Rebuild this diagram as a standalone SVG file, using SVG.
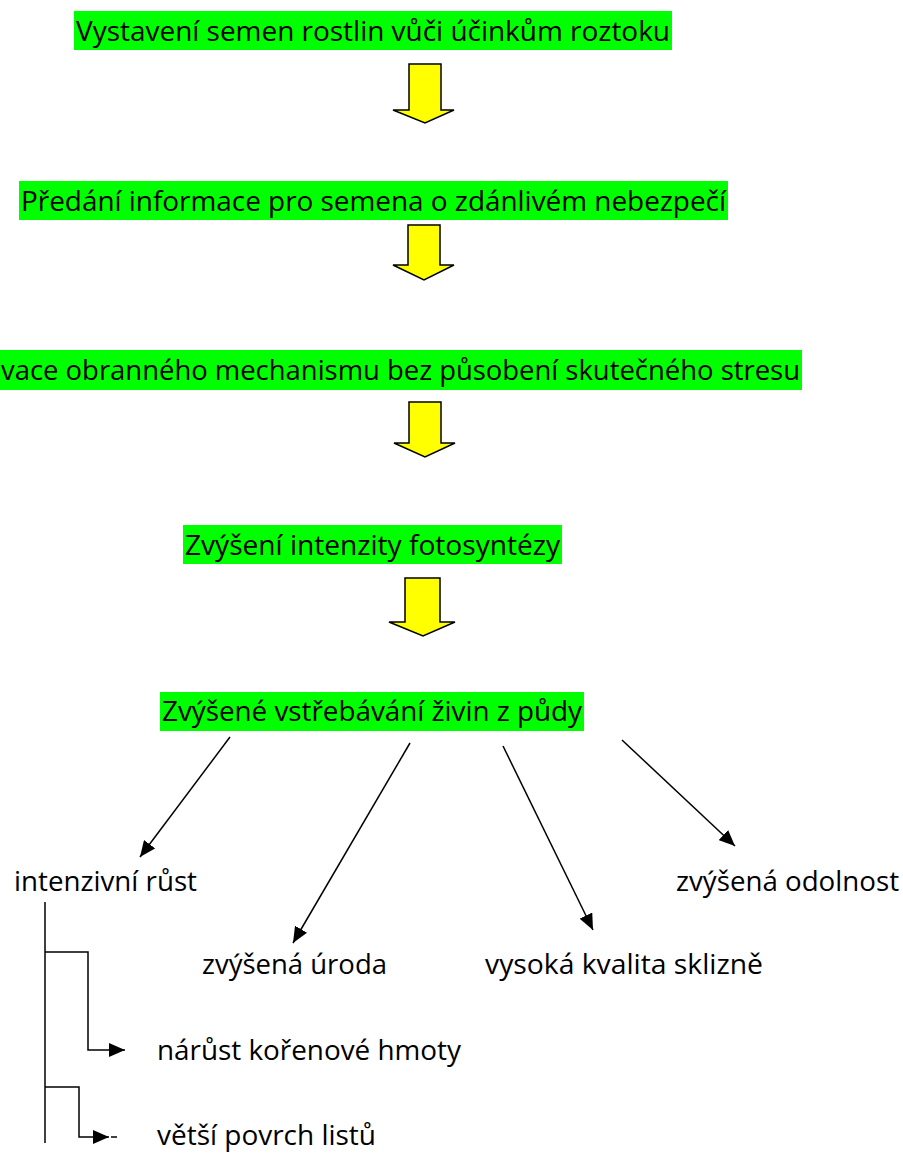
<svg xmlns="http://www.w3.org/2000/svg" width="903" height="1153" viewBox="0 0 903 1153">
<style>
.t{font-family:"Open Sans","Noto Sans","DejaVu Sans",sans-serif;font-size:28px;fill:#000}
.hl{fill:#00ff00}
.blk{fill:#ffff00;stroke:#000;stroke-width:1.5;stroke-linejoin:miter}
.ln{fill:none;stroke:#000;stroke-width:1.5}
</style>
<defs>
<marker id="ah" markerUnits="userSpaceOnUse" markerWidth="17" markerHeight="14" refX="16" refY="7" orient="auto">
<path d="M0,0 L16,7 L0,14 z" fill="#000"/>
</marker>
</defs>
<rect width="903" height="1153" fill="#fff"/>
<g id="n1">
<rect class="hl" x="74" y="11" width="598" height="39"/>
<text class="t" x="76" y="41" textLength="594" lengthAdjust="spacingAndGlyphs">Vystavení semen rostlin vůči účinkům roztoku</text>
</g>
<g id="n2">
<rect class="hl" x="19" y="181" width="709" height="39"/>
<text class="t" x="21" y="211" textLength="705" lengthAdjust="spacingAndGlyphs">Předání informace pro semena o zdánlivém nebezpečí</text>
</g>
<g id="n3">
<rect class="hl" x="0" y="350" width="802" height="40"/>
<text class="t" x="1" y="380" textLength="799" lengthAdjust="spacingAndGlyphs">vace obranného mechanismu bez působení skutečného stresu</text>
</g>
<g id="n4">
<rect class="hl" x="183" y="525" width="379" height="39"/>
<text class="t" x="185" y="555" textLength="375" lengthAdjust="spacingAndGlyphs">Zvýšení intenzity fotosyntézy</text>
</g>
<g id="n5">
<rect class="hl" x="160" y="692" width="424" height="39"/>
<text class="t" x="162" y="721" textLength="420" lengthAdjust="spacingAndGlyphs">Zvýšené vstřebávání živin z půdy</text>
</g>
<g id="n6"><text class="t" x="14" y="891" textLength="183" lengthAdjust="spacingAndGlyphs">intenzivní růst</text></g>
<g id="n7"><text class="t" x="676" y="891" textLength="223" lengthAdjust="spacingAndGlyphs">zvýšená odolnost</text></g>
<g id="n8"><text class="t" x="202" y="974" textLength="185" lengthAdjust="spacingAndGlyphs">zvýšená úroda</text></g>
<g id="n9"><text class="t" x="485" y="974" textLength="278" lengthAdjust="spacingAndGlyphs">vysoká kvalita sklizně</text></g>
<g id="n10"><text class="t" x="157" y="1060" textLength="304" lengthAdjust="spacingAndGlyphs">nárůst kořenové hmoty</text></g>
<g id="n11"><text class="t" x="157" y="1145" textLength="219" lengthAdjust="spacingAndGlyphs">větší povrch listů</text></g>
<g id="connectors">
<path class="blk" d="M409,64 H441 V110 H454 L425,123 L393,110 H409 Z"/>
<path class="blk" d="M408,225 H440 V265 H454 L424,280 L393,265 H408 Z"/>
<path class="blk" d="M409,402 H441 V443 H455 L425,457 L394,443 H409 Z"/>
<path class="blk" d="M405,578 H440 V622 H455 L423,636 L389,622 H405 Z"/>
<line class="ln" x1="230" y1="737" x2="140" y2="857" marker-end="url(#ah)"/>
<line class="ln" x1="410" y1="743" x2="293" y2="943" marker-end="url(#ah)"/>
<line class="ln" x1="503" y1="746" x2="593" y2="930" marker-end="url(#ah)"/>
<line class="ln" x1="622" y1="740" x2="735" y2="846" marker-end="url(#ah)"/>
<line class="ln" x1="45" y1="902" x2="45" y2="1143"/>
<path class="ln" d="M45,952 H88 V1050 H125" marker-end="url(#ah)"/>
<path class="ln" d="M45,1087 H79 V1137 H109" marker-end="url(#ah)"/>
<line class="ln" x1="111" y1="1137" x2="117" y2="1137"/>
</g>
</svg>
